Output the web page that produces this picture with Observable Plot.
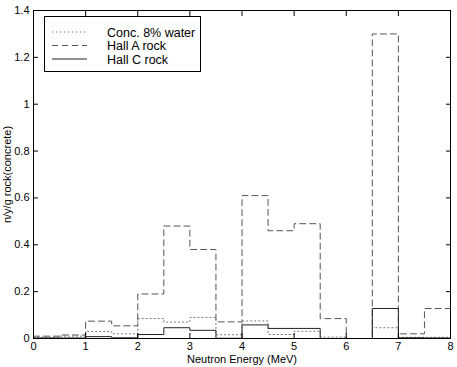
<!DOCTYPE html>
<html><head><meta charset="utf-8">
<script src="https://cdn.jsdelivr.net/npm/d3@7"></script>
<script src="https://cdn.jsdelivr.net/npm/@observablehq/plot@0.6"></script>
<style>
body{margin:0;background:#fff;font-family:"Liberation Sans",Arial,sans-serif;}
#wrap{position:relative;width:457px;height:367px;}
#legend{position:absolute;left:44px;top:16px;width:157px;height:56px;border:1px solid #000;background:#fff;box-sizing:border-box;font-size:12.5px;}
</style></head>
<body><div id="wrap"></div>
<script>
const binEdges = [0,0.5,1,1.5,2,2.5,3,3.5,4,4.5,5,5.5,6,6.5,7,7.5,8];
const seriesNames = ["Conc. 8% water","Hall A rock","Hall C rock"];
const concWater = [0.005,0.01,0.03,0.02,0.085,0.07,0.09,0.016,0.075,0.017,0.031,0.006,0,0.046,0.005,0.005];
const hallA     = [0.01,0.015,0.074,0.054,0.19,0.48,0.38,0.071,0.61,0.46,0.49,0.085,0,1.30,0.02,0.128];
const hallC     = [0.002,0.002,0.008,0.003,0.017,0.046,0.035,0.001,0.058,0.043,0.043,0,0,0.128,0.003,0.002];
const xTicks = [0,1,2,3,4,5,6,7,8];
const yTicks = [0,0.2,0.4,0.6,0.8,1,1.2,1.4];
const styles = [
  {stroke:"#777", dash:"1.2,2.8", width:1},
  {stroke:"#555", dash:"6,4", width:1},
  {stroke:"#222", dash:null, width:1}
];
const allVals = [concWater, hallA, hallC];
function stepData(vals){
  const pts = vals.map((v,i)=>({x:binEdges[i], y:v}));
  pts.push({x:binEdges[binEdges.length-1], y:vals[vals.length-1]});
  return pts;
}
const fmt = d => String(+d.toFixed(1));
const marks = [];
allVals.forEach((vals,k)=>{
  marks.push(Plot.line(stepData(vals), {x:"x", y:"y", curve:"step-after", stroke:styles[k].stroke, strokeWidth:styles[k].width, strokeDasharray:styles[k].dash}));
});
marks.push(
  Plot.axisX({anchor:"bottom", ticks:xTicks, tickSize:-5, tickPadding:9, tickFormat:fmt, label:"Neutron Energy (MeV)", labelAnchor:"center", labelArrow:"none", labelOffset:24, fontSize:11}),
  Plot.axisX({anchor:"top", ticks:xTicks, tickSize:-5, tickFormat:()=>"", label:null}),
  Plot.axisY({anchor:"left", ticks:yTicks, tickSize:-5, tickPadding:9, tickFormat:fmt, label:"n/y/g rock(concrete)", labelAnchor:"center", labelArrow:"none", labelOffset:30, fontSize:11}),
  Plot.axisY({anchor:"right", ticks:yTicks, tickSize:-5, tickFormat:()=>"", label:null}),
  Plot.frame({stroke:"#000", strokeWidth:1})
);
const chart = Plot.plot({
  width:457, height:367,
  marginLeft:33, marginRight:7, marginTop:10, marginBottom:29,
  style:{fontFamily:"Liberation Sans, Arial, sans-serif", fontSize:"11px", color:"#000", background:"#fff"},
  x:{domain:[0,8]},
  y:{domain:[0,1.4]},
  marks
});
const wrap = document.getElementById("wrap");
wrap.appendChild(chart);
const leg = document.createElement("div");
leg.id = "legend";
let svg = '<svg width="157" height="56" style="position:absolute;left:-1px;top:-1px">';
seriesNames.forEach((n,k)=>{
  const y = 16 + k*13.5;
  svg += `<line x1="8" x2="43" y1="${y}" y2="${y}" stroke="${styles[k].stroke}" stroke-width="1" ${styles[k].dash?`stroke-dasharray="${styles[k].dash}"`:""}/>`;
  svg += `<text x="63" y="${y+4.5}" font-size="12.5" font-family="Liberation Sans, Arial, sans-serif" fill="#000">${n}</text>`;
});
svg += '</svg>';
leg.innerHTML = svg;
wrap.appendChild(leg);
</script></body></html>
